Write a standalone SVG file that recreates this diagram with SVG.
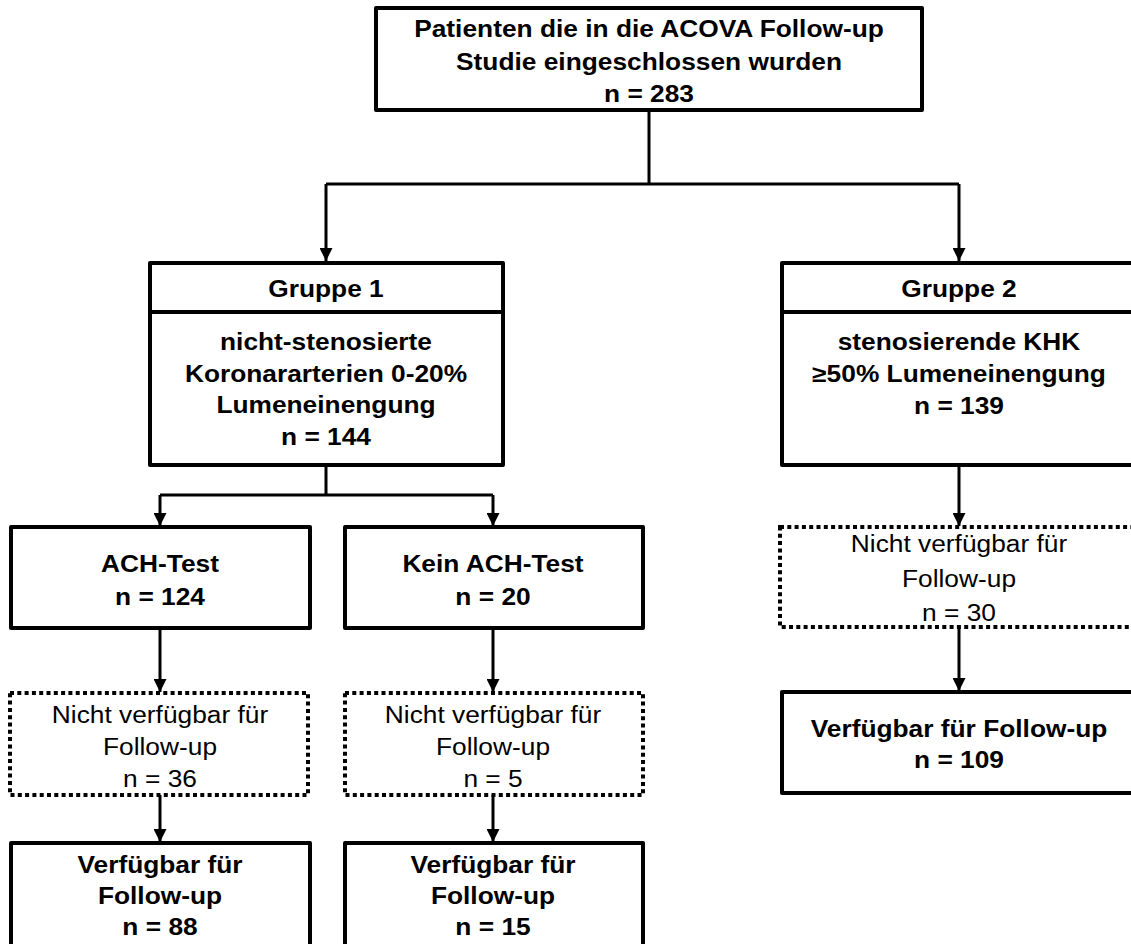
<svg xmlns="http://www.w3.org/2000/svg" width="1131" height="944" viewBox="0 0 1131 944">
<style>
.box{fill:#fff;stroke:#000;stroke-width:4;stroke-linejoin:round}
.dot{fill:#fff;stroke:#000;stroke-width:4;stroke-dasharray:4 3.3}
.div{stroke:#000;stroke-width:4}
.con{fill:none;stroke:#000;stroke-width:3}
.arr{fill:none;stroke:#000;stroke-width:3;marker-end:url(#ah)}
text{font-family:"Liberation Sans",Arial,sans-serif;font-size:23.5px;text-anchor:middle;fill:#000}
.b{font-weight:bold}
</style>
<defs>
<marker id="ah" viewBox="0 0 12 12" markerWidth="13" markerHeight="13" markerUnits="userSpaceOnUse" refX="12" refY="6" orient="auto">
<path d="M0,0 L12,6 L0,12 z" fill="#000"/>
</marker>
</defs>
<rect width="1131" height="944" fill="#fff"/>
<g id="connectors">
<path class="con" d="M649 110 V184 M326 184 H959"/>
<path class="arr" d="M326 184 V261"/>
<path class="arr" d="M959 184 V261"/>
<path class="con" d="M326 465 V495 M160 495 H493"/>
<path class="arr" d="M160 495 V526"/>
<path class="arr" d="M493 495 V526"/>
<path class="arr" d="M160 628 V692"/>
<path class="arr" d="M493 628 V692"/>
<path class="arr" d="M160 795 V842"/>
<path class="arr" d="M493 795 V842"/>
<path class="arr" d="M959 465 V526"/>
<path class="arr" d="M959 627 V691"/>
</g>
<g id="n_top">
<rect class="box" x="376" y="8" width="546" height="102"/>
<text class="b" transform="translate(649 0) scale(1.12 1)"><tspan x="0" y="37.5">Patienten die in die ACOVA Follow-up</tspan><tspan x="0" y="70">Studie eingeschlossen wurden</tspan><tspan x="0" y="102">n = 283</tspan></text>
</g>
<g id="n_g1">
<rect class="box" x="150" y="263" width="353" height="202"/>
<line class="div" x1="150" y1="312" x2="503" y2="312"/>
<text class="b" transform="translate(326 0) scale(1.12 1)"><tspan x="0" y="297">Gruppe 1</tspan><tspan x="0" y="350">nicht-stenosierte</tspan><tspan x="0" y="382">Koronararterien 0-20%</tspan><tspan x="0" y="413">Lumeneinengung</tspan><tspan x="0" y="445">n = 144</tspan></text>
</g>
<g id="n_g2">
<rect class="box" x="782" y="263" width="354" height="202"/>
<line class="div" x1="782" y1="312" x2="1136" y2="312"/>
<text class="b" transform="translate(959 0) scale(1.12 1)"><tspan x="0" y="297">Gruppe 2</tspan><tspan x="0" y="350">stenosierende KHK</tspan><tspan x="0" y="382">≥50% Lumeneinengung</tspan><tspan x="0" y="414">n = 139</tspan></text>
</g>
<g id="n_ach">
<rect class="box" x="11" y="527" width="299" height="101"/>
<text class="b" transform="translate(160 0) scale(1.12 1)"><tspan x="0" y="572">ACH-Test</tspan><tspan x="0" y="605">n = 124</tspan></text>
</g>
<g id="n_kein">
<rect class="box" x="345" y="527" width="298" height="101"/>
<text class="b" transform="translate(493 0) scale(1.12 1)"><tspan x="0" y="572">Kein ACH-Test</tspan><tspan x="0" y="605">n = 20</tspan></text>
</g>
<g id="n_na1">
<rect class="dot" x="10" y="693" width="298" height="102"/>
<text transform="translate(160 0) scale(1.12 1)"><tspan x="0" y="723">Nicht verfügbar für</tspan><tspan x="0" y="755">Follow-up</tspan><tspan x="0" y="787">n = 36</tspan></text>
</g>
<g id="n_na2">
<rect class="dot" x="345" y="693" width="298" height="102"/>
<text transform="translate(493 0) scale(1.12 1)"><tspan x="0" y="723">Nicht verfügbar für</tspan><tspan x="0" y="755">Follow-up</tspan><tspan x="0" y="787">n = 5</tspan></text>
</g>
<g id="n_na3">
<rect class="dot" x="780" y="527" width="358" height="100"/>
<text transform="translate(959 0) scale(1.12 1)"><tspan x="0" y="552">Nicht verfügbar für</tspan><tspan x="0" y="587">Follow-up</tspan><tspan x="0" y="621">n = 30</tspan></text>
</g>
<g id="n_av1">
<rect class="box" x="11" y="843" width="299" height="110"/>
<text class="b" transform="translate(160 0) scale(1.12 1)"><tspan x="0" y="873">Verfügbar für</tspan><tspan x="0" y="904">Follow-up</tspan><tspan x="0" y="935">n = 88</tspan></text>
</g>
<g id="n_av2">
<rect class="box" x="345" y="843" width="298" height="110"/>
<text class="b" transform="translate(493 0) scale(1.12 1)"><tspan x="0" y="873">Verfügbar für</tspan><tspan x="0" y="904">Follow-up</tspan><tspan x="0" y="935">n = 15</tspan></text>
</g>
<g id="n_av3">
<rect class="box" x="782" y="692" width="354" height="101"/>
<text class="b" transform="translate(959 0) scale(1.12 1)"><tspan x="0" y="737">Verfügbar für Follow-up</tspan><tspan x="0" y="768">n = 109</tspan></text>
</g>
</svg>
